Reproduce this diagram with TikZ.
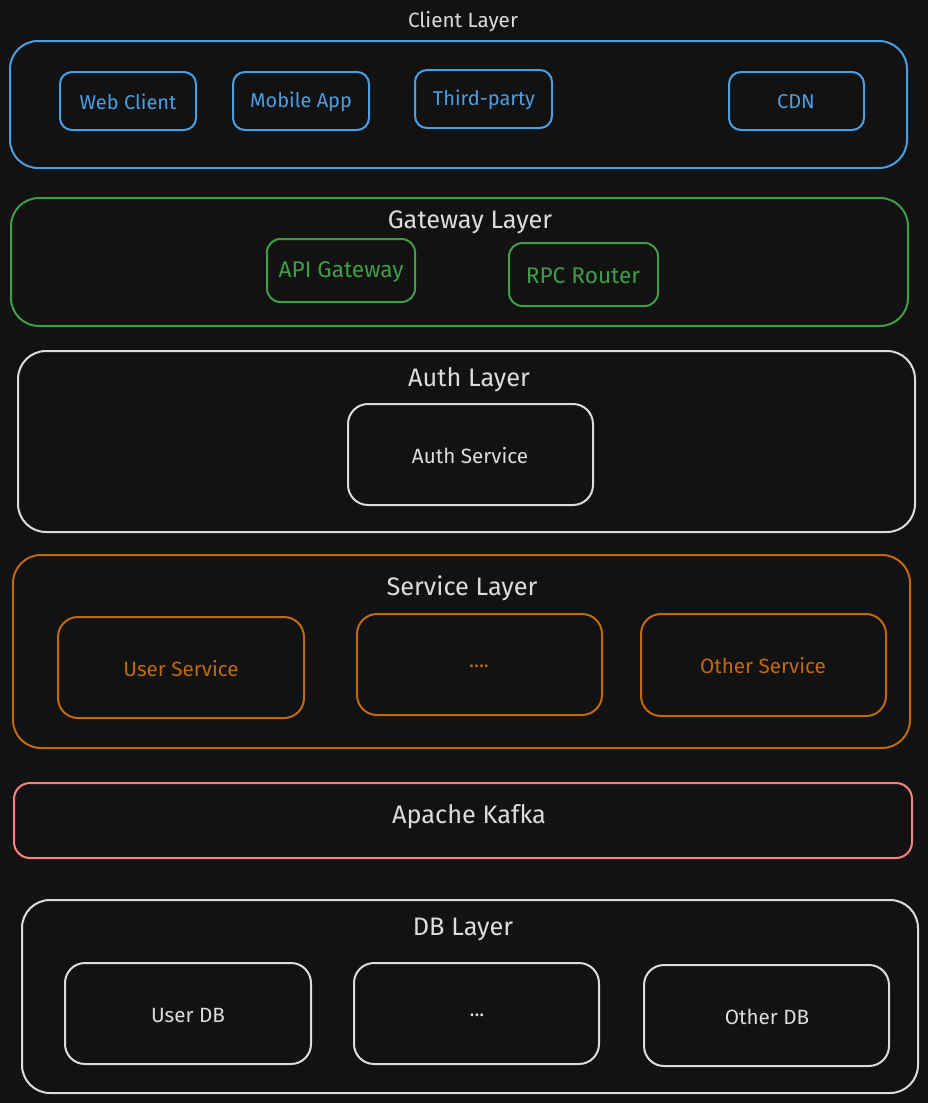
\documentclass[tikz,border=0pt]{standalone}
\usepackage{fontspec}
\setmainfont{Fira Sans}
\begin{document}
\definecolor{bg}{HTML}{121212}
\definecolor{cblue}{HTML}{4A9FE4}
\definecolor{cgreen}{HTML}{3D9E45}
\definecolor{cwhite}{HTML}{DCDCDC}
\definecolor{corange}{HTML}{C2680E}
\definecolor{cred}{HTML}{FF8080}
\begin{tikzpicture}[x=0.75pt,y=-0.75pt,
  layerbox/.style={draw=#1,line width=1.5pt,rounded corners=21pt},
  itembox/.style={draw=#1,line width=1.5pt,rounded corners=12pt},
  titletext/.style={text=cwhite,font=\fontsize{19}{22}\selectfont},
  itemtext/.style={text=#1,font=\fontsize{15.5}{18}\selectfont}]
\fill[bg] (0,0) rectangle (928,1103);
\useasboundingbox (0,0) rectangle (928,1103);

% Client layer
\node[titletext,font=\fontsize{15.5}{18}\selectfont] (clientT) at (463,22) {Client Layer};
\draw[layerbox=cblue] (10,41) rectangle (907,168);
\draw[itembox=cblue,rounded corners=9pt] (60,72) rectangle (196,130);
\node[itemtext=cblue,font=\fontsize{15}{18}\selectfont] (web) at (128,102) {Web Client};
\draw[itembox=cblue,rounded corners=9pt] (233,72) rectangle (369,130);
\node[itemtext=cblue,font=\fontsize{15}{18}\selectfont] (mob) at (301,102) {Mobile App};
\draw[itembox=cblue,rounded corners=9pt] (415,70) rectangle (552,128);
\node[itemtext=cblue,font=\fontsize{15}{18}\selectfont] (third) at (484,100) {Third-party};
\draw[itembox=cblue,rounded corners=9pt] (729,72) rectangle (864,130);
\node[itemtext=cblue,font=\fontsize{15}{18}\selectfont] (cdn) at (796,102) {CDN};

% Gateway layer
\draw[layerbox=cgreen] (11,198) rectangle (908,326);
\node[titletext] (gwT) at (470,222) {Gateway Layer};
\draw[itembox=cgreen,rounded corners=10pt] (267,239) rectangle (415,302);
\node[itemtext=cgreen,font=\fontsize{17}{20}\selectfont] (api) at (341,272) {API Gateway};
\draw[itembox=cgreen,rounded corners=10pt] (509,243) rectangle (658,306);
\node[itemtext=cgreen,font=\fontsize{17}{20}\selectfont] (rpc) at (583,276) {RPC Router};

% Auth layer
\draw[layerbox=cwhite] (18,351) rectangle (915,532);
\node[titletext] (authT) at (469,380) {Auth Layer};
\draw[itembox=cwhite,rounded corners=15pt] (348,404) rectangle (593,505);
\node[itemtext=cwhite] (auth) at (470,456) {Auth Service};

% Service layer
\draw[layerbox=corange] (13,555) rectangle (910,748);
\node[titletext] (svcT) at (462,588) {Service Layer};
\draw[itembox=corange,rounded corners=15pt] (58,617) rectangle (304,718);
\node[itemtext=corange] (usvc) at (181,669) {User Service};
\draw[itembox=corange,rounded corners=15pt] (357,614) rectangle (602,715);
\node[itemtext=corange] (dots) at (479,666) {....};
\draw[itembox=corange,rounded corners=15pt] (641,614) rectangle (886,716);
\node[itemtext=corange] (osvc) at (763,666) {Other Service};

% Message bus
\draw[layerbox=cred,rounded corners=12pt] (14,783) rectangle (912,858);
\node[titletext] (kafka) at (469,817) {Apache Kafka};

% DB layer
\draw[layerbox=cwhite] (22,900) rectangle (918,1093);
\node[titletext] (dbT) at (463,929) {DB Layer};
\draw[itembox=cwhite,rounded corners=15pt] (65,963) rectangle (311,1064);
\node[itemtext=cwhite] (udb) at (188,1015) {User DB};
\draw[itembox=cwhite,rounded corners=15pt] (354,963) rectangle (599,1064);
\node[itemtext=cwhite] (ddb) at (477,1015) {...};
\draw[itembox=cwhite,rounded corners=15pt] (644,965) rectangle (889,1066);
\node[itemtext=cwhite] (odb) at (767,1017) {Other DB};
\end{tikzpicture}
\end{document}
